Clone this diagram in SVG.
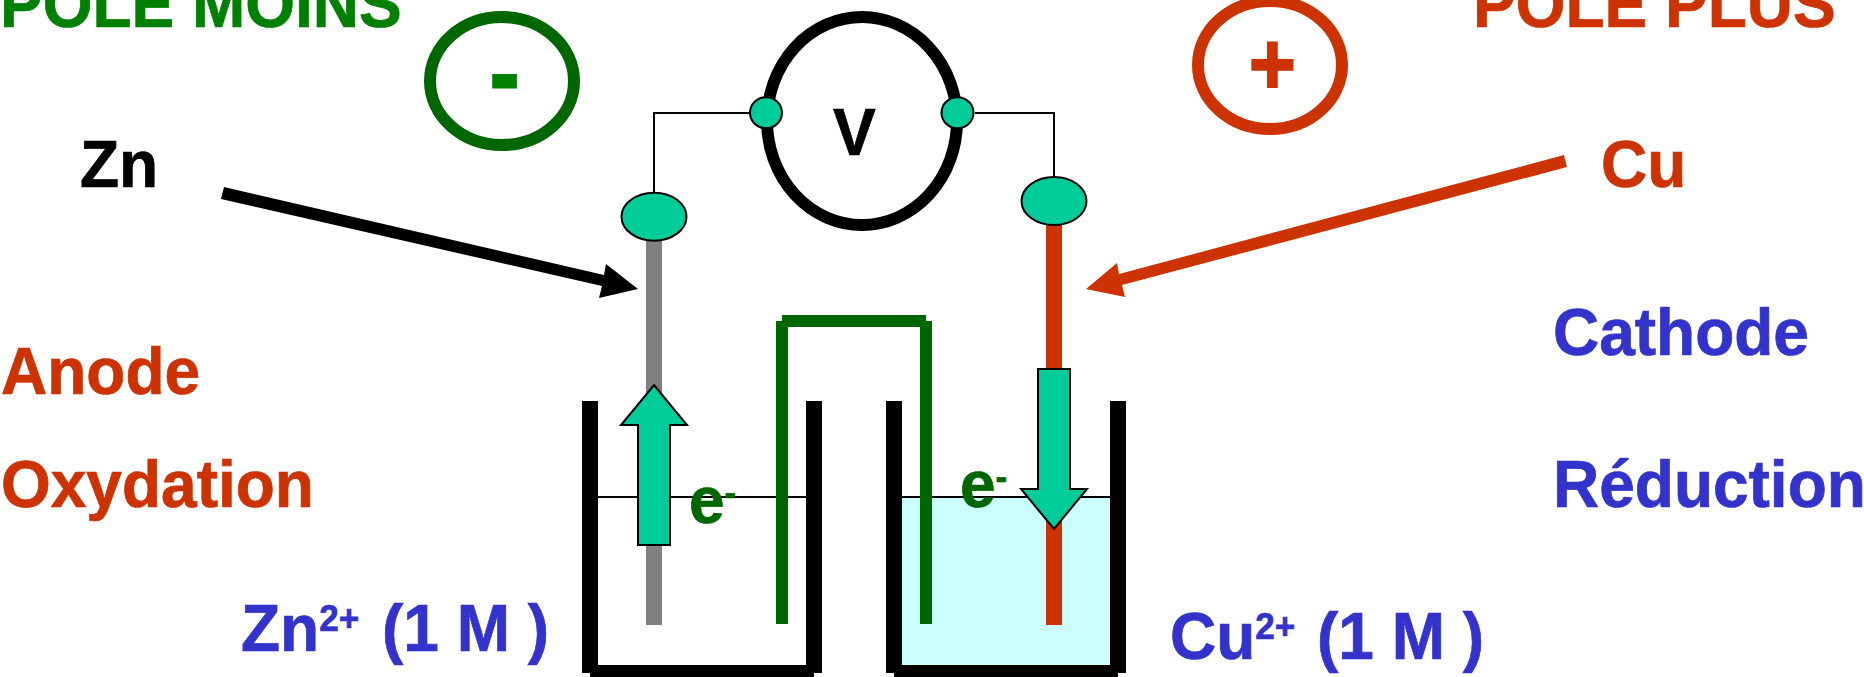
<svg xmlns="http://www.w3.org/2000/svg" width="1864" height="677" viewBox="0 0 1864 677">
<style>
text{font-family:"Liberation Sans",Arial,sans-serif;font-weight:700;font-size:64px;stroke-width:.7px}
.red{fill:#CC3300;stroke:#CC3300}.blue{fill:#3333CC;stroke:#3333CC}.green{fill:#008000;stroke:#008000}.dgreen{fill:#006600;stroke:#006600}.black{fill:#000;stroke:#000}
.sup{font-size:35px}
.term{fill:#00CC99;stroke:#000;stroke-width:2}
.wire{fill:none;stroke:#000;stroke-width:2}
.wall{fill:#000;stroke:none}
</style>
<rect width="1864" height="677" fill="#fff"/>
<g id="solution"><rect x="902" y="497" width="208" height="168" fill="#CCFFFF"/></g>
<g id="connectors">
<path class="wire" d="M654 192V113H749M1054 177V113H975"/>
<path class="wire" d="M598 497H806M902 497H1110"/>
<polygon fill="#000" points="224,187 604,275 606,264 638,289 599,298 602,286 221,199"/>
<polygon fill="#CC3300" points="1564,155 1119,274 1117,263 1086,289 1125,297 1122,285 1567,167"/>
</g>
<g id="beaker-left">
<rect class="wall" x="582" y="401" width="16" height="272"/>
<rect class="wall" x="806" y="401" width="16" height="272"/>
<rect class="wall" x="590" y="665" width="224" height="12"/>
</g>
<g id="beaker-right">
<rect class="wall" x="886" y="401" width="16" height="272"/>
<rect class="wall" x="1110" y="401" width="16" height="272"/>
<rect class="wall" x="894" y="665" width="224" height="12"/>
</g>
<g id="zinc-rod"><rect x="646" y="240" width="16" height="385" fill="#808080"/></g>
<g id="copper-rod"><rect x="1046" y="225" width="16" height="400" fill="#CC3300"/></g>
<g id="salt-bridge" fill="#006600">
<rect x="782" y="315" width="144" height="12"/>
<rect x="776" y="321" width="12" height="303"/>
<rect x="920" y="321" width="12" height="303"/>
</g>
<g id="voltmeter">
<ellipse cx="862" cy="121" rx="95" ry="104" fill="none" stroke="#000" stroke-width="12"/>
<ellipse class="term" cx="766" cy="112.7" rx="16" ry="15.5"/>
<ellipse class="term" cx="957.5" cy="112.7" rx="16" ry="15.5"/>
<text class="black" transform="translate(833,155) scale(1,1.05)">V</text>
</g>
<g id="terminal-zn"><ellipse class="term" cx="654" cy="216.7" rx="32.5" ry="24"/></g>
<g id="terminal-cu"><ellipse class="term" cx="1054" cy="201" rx="32.5" ry="24"/></g>
<g id="arrow-up"><polygon class="term" points="654,385 687,425 670,425 670,545 638,545 638,425 621,425"/></g>
<g id="arrow-down"><polygon class="term" points="1038,369 1070,369 1070,489 1087,489 1054,529 1021,489 1038,489"/></g>
<g id="pole-minus">
<text class="green" transform="translate(0,26.7) scale(1,1.05)">POLE MOINS</text>
<ellipse cx="502" cy="81" rx="72" ry="64" fill="none" stroke="#006600" stroke-width="12"/>
<text class="green" style="font-size:94px" transform="translate(489,111) scale(1,1.2)">-</text>
</g>
<g id="pole-plus">
<text class="red" transform="translate(1473,26.7) scale(1,1.05)">POLE PLUS</text>
<ellipse cx="1270" cy="65" rx="72" ry="64" fill="none" stroke="#CC3300" stroke-width="12"/>
<text class="red" style="font-size:80px;stroke-width:2px" transform="translate(1249,94) scale(1,1.08)">+</text>
</g>
<g id="label-zn"><text class="black" transform="translate(80,187) scale(1,1.05)">Zn</text></g>
<g id="label-cu"><text class="red" transform="translate(1601,187) scale(1,1.05)">Cu</text></g>
<g id="label-anode"><text class="red" transform="translate(1,394.3) scale(1,1.05)">Anode</text></g>
<g id="label-oxydation"><text class="red" transform="translate(1,507) scale(1,1.05)">Oxydation</text></g>
<g id="label-cathode"><text class="blue" transform="translate(1553,354.7) scale(1,1.05)">Cathode</text></g>
<g id="label-reduction"><text class="blue" transform="translate(1553,507) scale(1,1.05)">Réduction</text></g>
<g id="label-zn-ion"><text class="blue" transform="translate(241,650.7) scale(1,1.05)">Zn<tspan class="sup" dy="-19">2+</tspan><tspan dy="19" x="141">(1 M )</tspan></text></g>
<g id="label-cu-ion"><text class="blue" transform="translate(1170,658.7) scale(1,1.05)">Cu<tspan class="sup" dy="-19">2+</tspan><tspan dy="19" x="147">(1 M )</tspan></text></g>
<g id="electron-left"><text class="dgreen" transform="translate(689,523) scale(1,1.05)">e<tspan class="sup" dy="-17">-</tspan></text></g>
<g id="electron-right"><text class="dgreen" transform="translate(960,507) scale(1,1.05)">e<tspan class="sup" dy="-17">-</tspan></text></g>
</svg>
